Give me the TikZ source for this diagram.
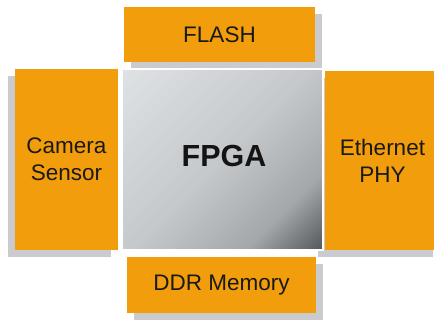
\documentclass[tikz,border=0pt]{standalone}
\usepackage{fontspec}
\setmainfont{Liberation Sans}
\usetikzlibrary{shadows}
\definecolor{blockorange}{RGB}{242,157,12}
\definecolor{shadowgray}{RGB}{201,203,207}
\tikzset{
  periph/.style={rectangle, fill=blockorange, inner sep=0pt, align=center,
    font=\fontsize{22.5}{27}\selectfont, text=black!90},
  shadowright/.style={drop shadow={shadow xshift=7pt, shadow yshift=-7pt,
    fill=shadowgray, opacity=1}},
  shadowleft/.style={drop shadow={shadow xshift=-7pt, shadow yshift=-7pt,
    fill=shadowgray, opacity=1}},
  chip/.style={rectangle, draw=white, line width=1.2pt, inner sep=0pt,
    font=\fontsize{30.5}{34}\bfseries, text=black!92}
}
\begin{document}
\begin{tikzpicture}[x=1pt, y=1pt]
  \useasboundingbox (0,0) rectangle (434,320);
  % peripheral blocks around the chip
  \node[periph, shadowright, minimum width=191pt, minimum height=55pt]
    (flash) at (219.5,285.5) {FLASH};
  \node[periph, shadowleft, minimum width=103pt, minimum height=181pt]
    (camera) at (66.5,160.5) {Camera\\Sensor};
  \node[periph, shadowleft, minimum width=115pt, minimum height=179pt]
    (ethernet) at (382.5,159.5) {Ethernet\\PHY};
  \node[periph, shadowright, minimum width=189pt, minimum height=56pt]
    (ddr) at (221.5,35) {DDR Memory};
  % chip body: diagonal grey ramp built from thin bands,
  % light at the upper left, darkening fast near the lower right corner
  \begin{scope}
    \clip (122,70) rectangle (323,251);
    \foreach \i in {0,...,79} {
      \pgfmathsetmacro{\ta}{\i*4.775}
      \pgfmathsetmacro{\tb}{(\i+1)*4.775+0.6}
      \pgfmathsetmacro{\tm}{(\i+0.5)/80}
      \pgfmathsetmacro{\g}{\tm<0.5 ? 224-52*\tm : (\tm<0.8 ? 198-110*(\tm-0.5) : 165-400*(\tm-0.8))}
      \pgfmathtruncatemacro{\gr}{\g}
      \pgfmathtruncatemacro{\gg}{\g+3}
      \pgfmathtruncatemacro{\gb}{\g+6}
      \definecolor{bandcol}{RGB}{\gr,\gg,\gb}
      \fill[bandcol] (622+\ta,751) -- (622+\tb,751) -- (\tb-378,-249) -- (\ta-378,-249) -- cycle;
    }
  \end{scope}
  % the FPGA in the middle
  \node[chip, minimum width=201pt, minimum height=181pt]
    (fpga) at (222.5,160.5) {\hspace*{3pt}\raisebox{7pt}{FPGA}};
\end{tikzpicture}
\end{document}
